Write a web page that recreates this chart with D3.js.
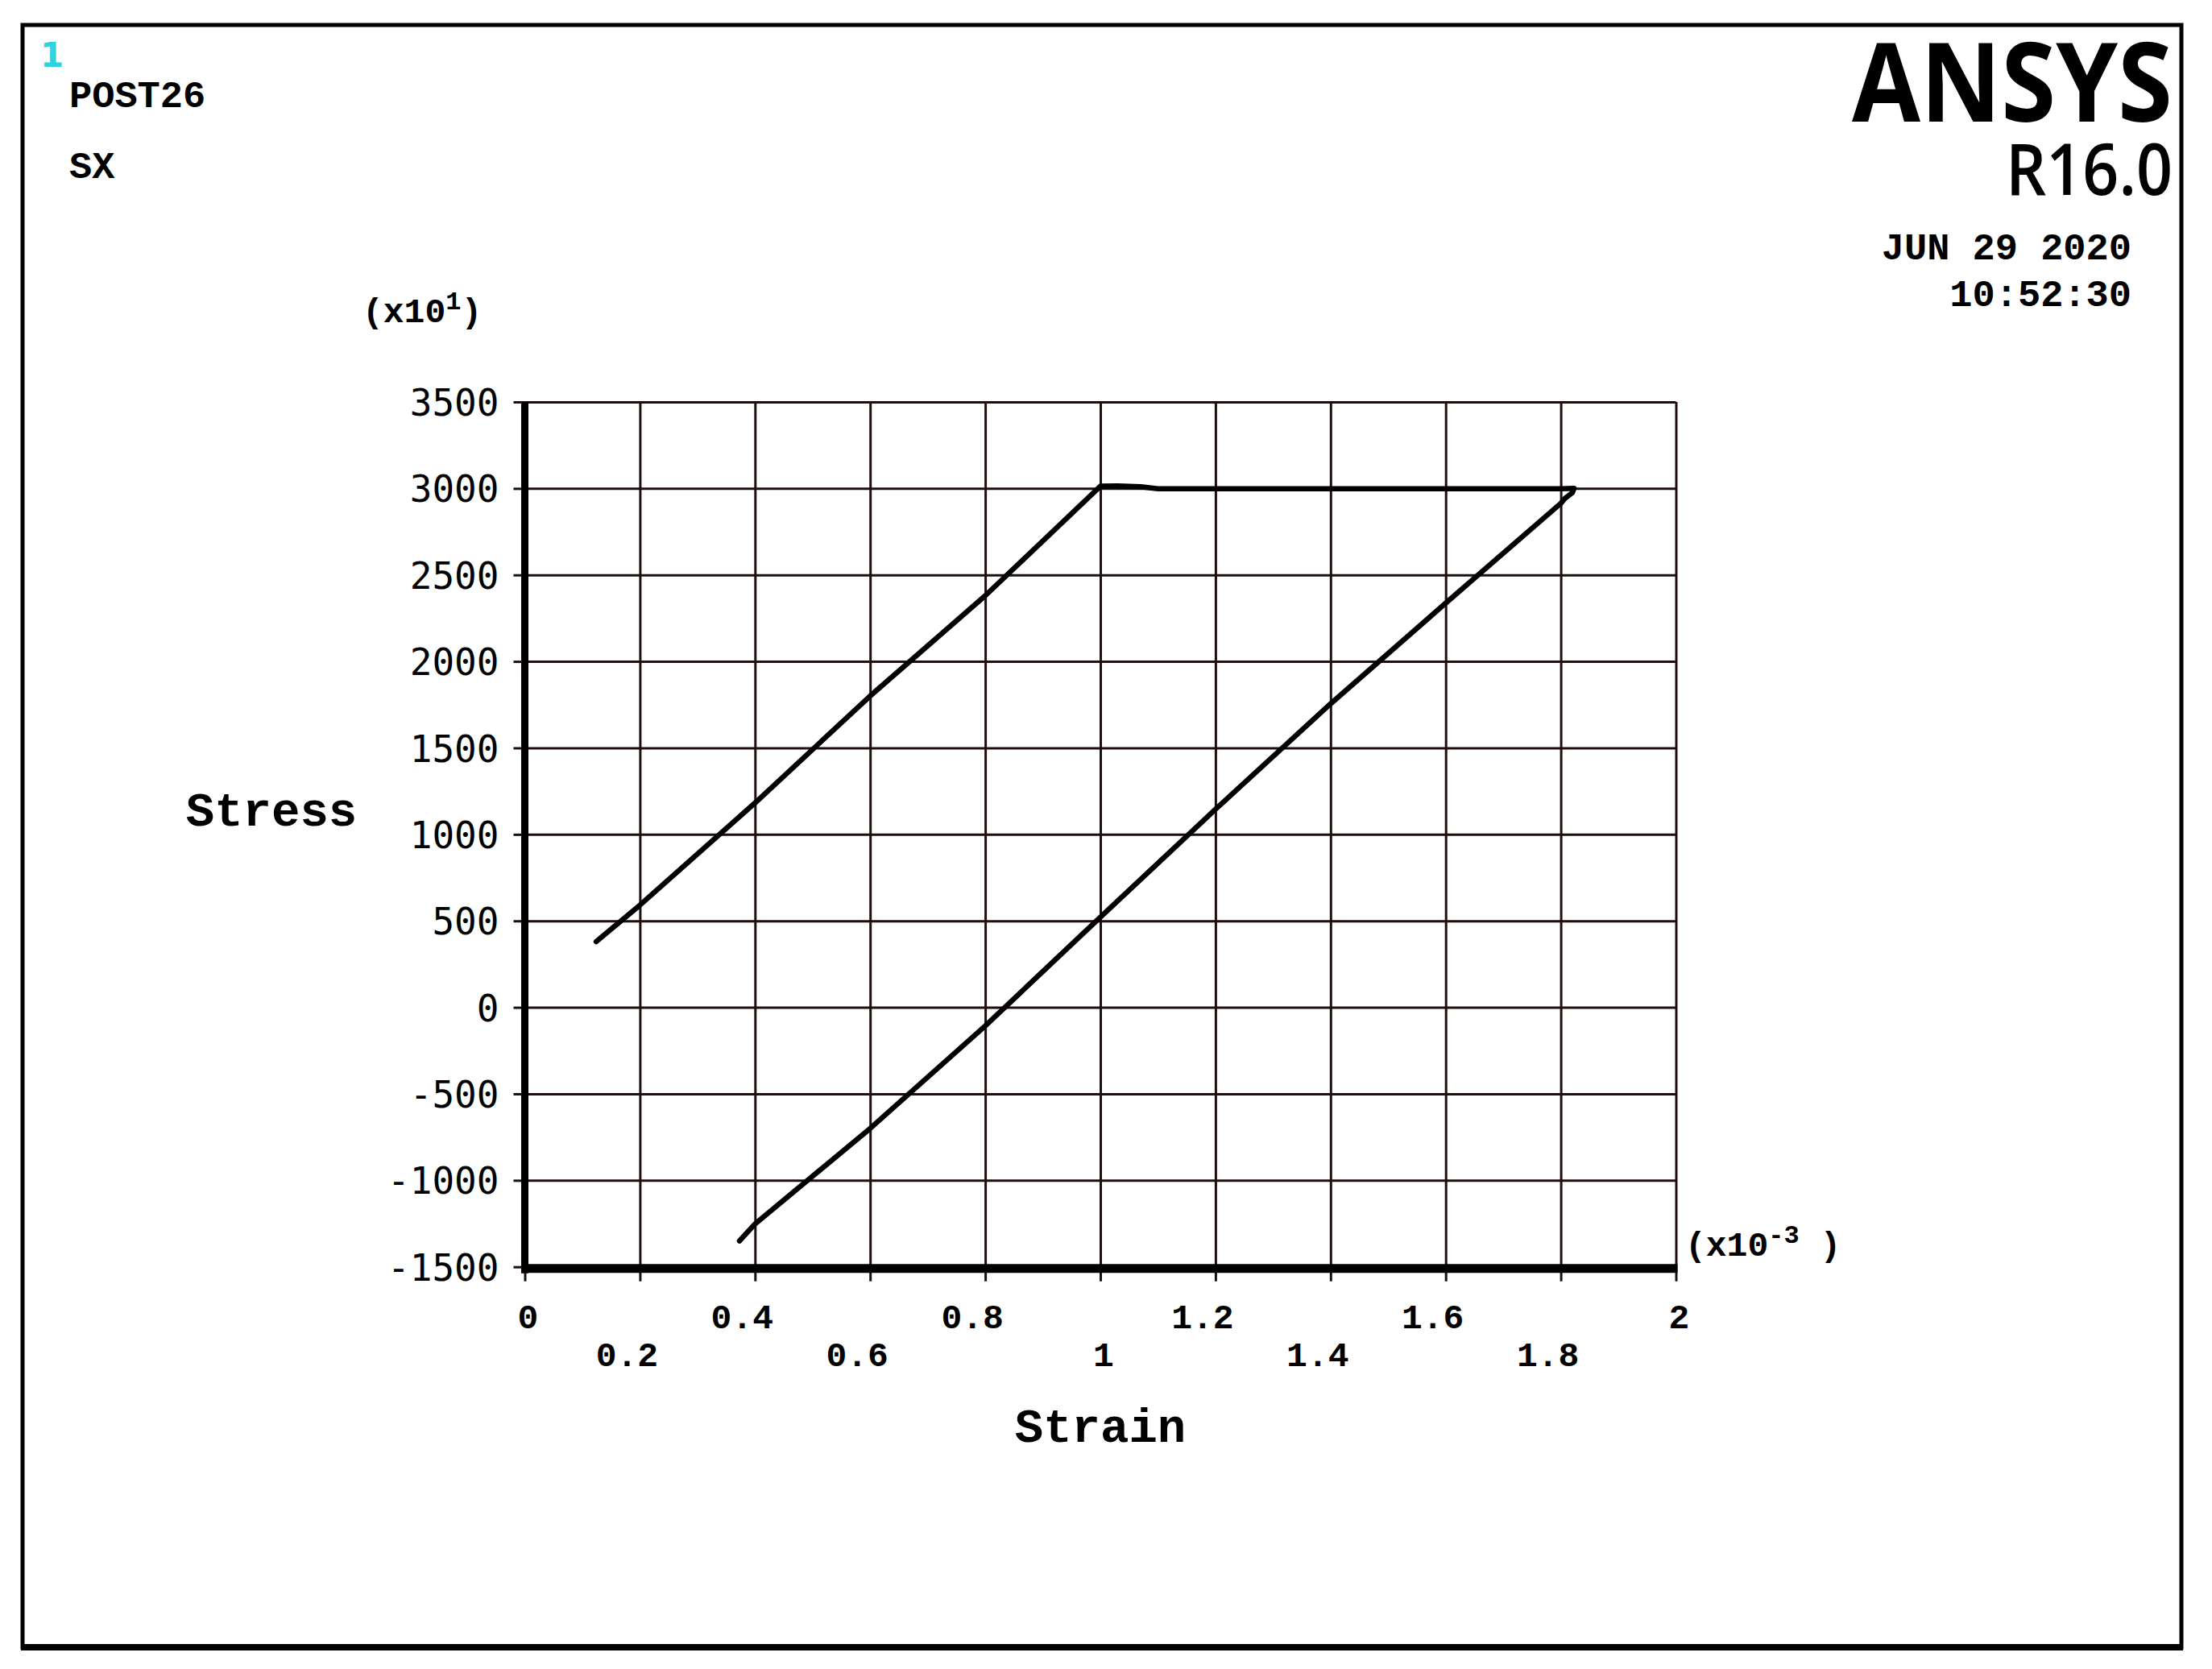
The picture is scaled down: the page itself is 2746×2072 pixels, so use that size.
<!DOCTYPE html>
<html>
<head>
<meta charset="utf-8">
<script src="https://cdn.jsdelivr.net/npm/d3@7/dist/d3.min.js"></script>
<style>
  html, body { margin: 0; padding: 0; background: #fff; }
  svg { display: block; }
</style>
</head>
<body>
<script>
// ---------- data (strain in x10^-3, stress in x10^1) ----------
const strain = [0.124, 0.2, 0.4, 0.6, 0.8, 1.0, 1.03, 1.07, 1.1, 1.2, 1.4, 1.6, 1.8, 1.823, 1.82, 1.807, 1.8, 1.6, 1.4, 1.2, 1.0, 0.8, 0.6, 0.4, 0.373];
const stress = [380, 591, 1182, 1800, 2380, 3013, 3015, 3010, 2998, 2998, 2998, 2998, 2998, 3000, 2975, 2942, 2914, 2337, 1755, 1145, 521, -107, -700, -1252, -1350];
const xTicks = [0, 0.2, 0.4, 0.6, 0.8, 1, 1.2, 1.4, 1.6, 1.8, 2];
const yTicks = [-1500, -1000, -500, 0, 500, 1000, 1500, 2000, 2500, 3000, 3500];
const xTickLabels = ["0", "0.2", "0.4", "0.6", "0.8", "1", "1.2", "1.4", "1.6", "1.8", "2"];
const yTickLabels = ["-1500", "-1000", "-500", "0", "500", "1000", "1500", "2000", "2500", "3000", "3500"];

const W = 2746, H = 2072;
const mono = "'Liberation Mono', 'DejaVu Sans Mono', monospace";
const sansMono = "'DejaVu Sans Mono', 'Liberation Mono', monospace";
const svg = d3.select("body").append("svg").attr("width", W).attr("height", H);
svg.append("rect").attr("width", W).attr("height", H).attr("fill", "#fff");

const x = d3.scaleLinear().domain([0, 2]).range([651.5, 2080.5]);
const y = d3.scaleLinear().domain([-1500, 3500]).range([1572.7, 499]);

const gridColor = "#1e0e0e";

// gridlines
const gx = svg.append("g").attr("transform", `translate(0,${y(-1500)})`)
  .call(d3.axisBottom(x).tickValues(xTicks).tickSize(-(y(-1500) - y(3500))).tickFormat(""));
gx.select(".domain").remove();
gx.selectAll("line").attr("stroke", gridColor).attr("stroke-width", 3);

const gy = svg.append("g").attr("transform", `translate(${x(0)},0)`)
  .call(d3.axisLeft(y).tickValues(yTicks).tickSize(-(x(2) - x(0))).tickFormat(""));
gy.select(".domain").remove();
gy.selectAll("line").attr("stroke", gridColor).attr("stroke-width", 3);

// small outer ticks + labels (y)
const ay = svg.append("g").attr("transform", `translate(${x(0)},0)`)
  .call(d3.axisLeft(y).tickValues(yTicks).tickSize(14).tickPadding(18)
    .tickFormat((d, i) => yTickLabels[i]));
ay.select(".domain").remove();
ay.selectAll("line").attr("stroke", gridColor).attr("stroke-width", 3);
ay.selectAll("text").attr("font-family", sansMono).attr("font-size", 46)
  .attr("font-weight", "normal").attr("fill", "#000").attr("dy", "0.36em");

// small outer ticks (x)
const ax = svg.append("g").attr("transform", `translate(0,${y(-1500)})`)
  .call(d3.axisBottom(x).tickValues(xTicks).tickSize(18).tickFormat(""));
ax.select(".domain").remove();
ax.selectAll("line").attr("stroke", gridColor).attr("stroke-width", 3);

// x tick labels, two staggered rows
svg.append("g").selectAll("text").data(xTicks).join("text")
  .attr("x", d => x(d) + (Number.isInteger(d) ? 4 : -16))
  .attr("y", (d, i) => i % 2 === 0 ? 1649 : 1696)
  .attr("text-anchor", "middle")
  .attr("font-family", mono).attr("font-size", 43).attr("font-weight", "bold")
  .attr("fill", "#000")
  .text((d, i) => xTickLabels[i]);

// thick axes
svg.append("line").attr("x1", x(0)).attr("x2", x(0)).attr("y1", y(3500)).attr("y2", y(-1500) + 8)
  .attr("stroke", "#000").attr("stroke-width", 9);
svg.append("line").attr("x1", x(0) - 4).attr("x2", x(2) + 2).attr("y1", y(-1500) + 2).attr("y2", y(-1500) + 2)
  .attr("stroke", "#000").attr("stroke-width", 11);

// curve
const pts = strain.map((s, i) => [s, stress[i]]);
svg.append("path").datum(pts)
  .attr("d", d3.line().x(d => x(d[0])).y(d => y(d[1])))
  .attr("fill", "none").attr("stroke", "#000").attr("stroke-width", 6.5)
  .attr("stroke-linejoin", "round").attr("stroke-linecap", "round");

// axis titles / multipliers
svg.append("text").attr("x", 337).attr("y", 1025).attr("text-anchor", "middle")
  .attr("font-family", mono).attr("font-size", 59).attr("font-weight", "bold").text("Stress");
svg.append("text").attr("x", x(1)).attr("y", 1790).attr("text-anchor", "middle")
  .attr("font-family", mono).attr("font-size", 59).attr("font-weight", "bold").text("Strain");

const m1 = svg.append("text").attr("x", 450).attr("y", 400)
  .attr("font-family", mono).attr("font-size", 43).attr("font-weight", "bold");
m1.append("tspan").text("(x10");
m1.append("tspan").attr("dy", -16).attr("font-size", 32).text("1");
m1.append("tspan").attr("dy", 16).text(")");

const m2 = svg.append("text").attr("x", 2092).attr("y", 1559)
  .attr("font-family", mono).attr("font-size", 43).attr("font-weight", "bold");
m2.append("tspan").text("(x10");
m2.append("tspan").attr("dy", -16).attr("font-size", 32).text("-3");
m2.append("tspan").attr("dy", 16).text(" )");

// header texts
svg.append("text").attr("x", 50).attr("y", 83).attr("font-family", "'DejaVu Sans', sans-serif")
  .attr("font-size", 42).attr("font-weight", "bold").attr("fill", "#2fd4e0").text("1");
svg.append("text").attr("x", 86).attr("y", 133).attr("font-family", mono)
  .attr("font-size", 47).attr("font-weight", "bold").text("POST26");
svg.append("text").attr("x", 86).attr("y", 221).attr("font-family", mono)
  .attr("font-size", 47).attr("font-weight", "bold").text("SX");

svg.append("text").attr("x", 2299).attr("y", 151).attr("font-family", "'Open Sans', 'Noto Sans', sans-serif")
  .attr("font-size", 137).attr("font-weight", "bold")
  .attr("textLength", 398).attr("lengthAdjust", "spacingAndGlyphs").text("ANSYS");
svg.append("text").attr("x", 2490).attr("y", 242).attr("font-family", "'Open Sans', 'Noto Sans', sans-serif")
  .attr("font-size", 88).attr("font-weight", 600)
  .attr("textLength", 207).attr("lengthAdjust", "spacingAndGlyphs").text("R16.0");
svg.append("text").attr("x", 2646).attr("y", 322).attr("text-anchor", "end").attr("font-family", mono)
  .attr("font-size", 47).attr("font-weight", "bold").text("JUN 29 2020");
svg.append("text").attr("x", 2646).attr("y", 380).attr("text-anchor", "end").attr("font-family", mono)
  .attr("font-size", 47).attr("font-weight", "bold").text("10:52:30");

// outer frame
svg.append("rect").attr("x", 28).attr("y", 31).attr("width", 2680).attr("height", 2014)
  .attr("fill", "none").attr("stroke", "#000").attr("stroke-width", 5);
svg.append("line").attr("x1", 26).attr("x2", 2710).attr("y1", 2045).attr("y2", 2045)
  .attr("stroke", "#000").attr("stroke-width", 8);
</script>
</body>
</html>
